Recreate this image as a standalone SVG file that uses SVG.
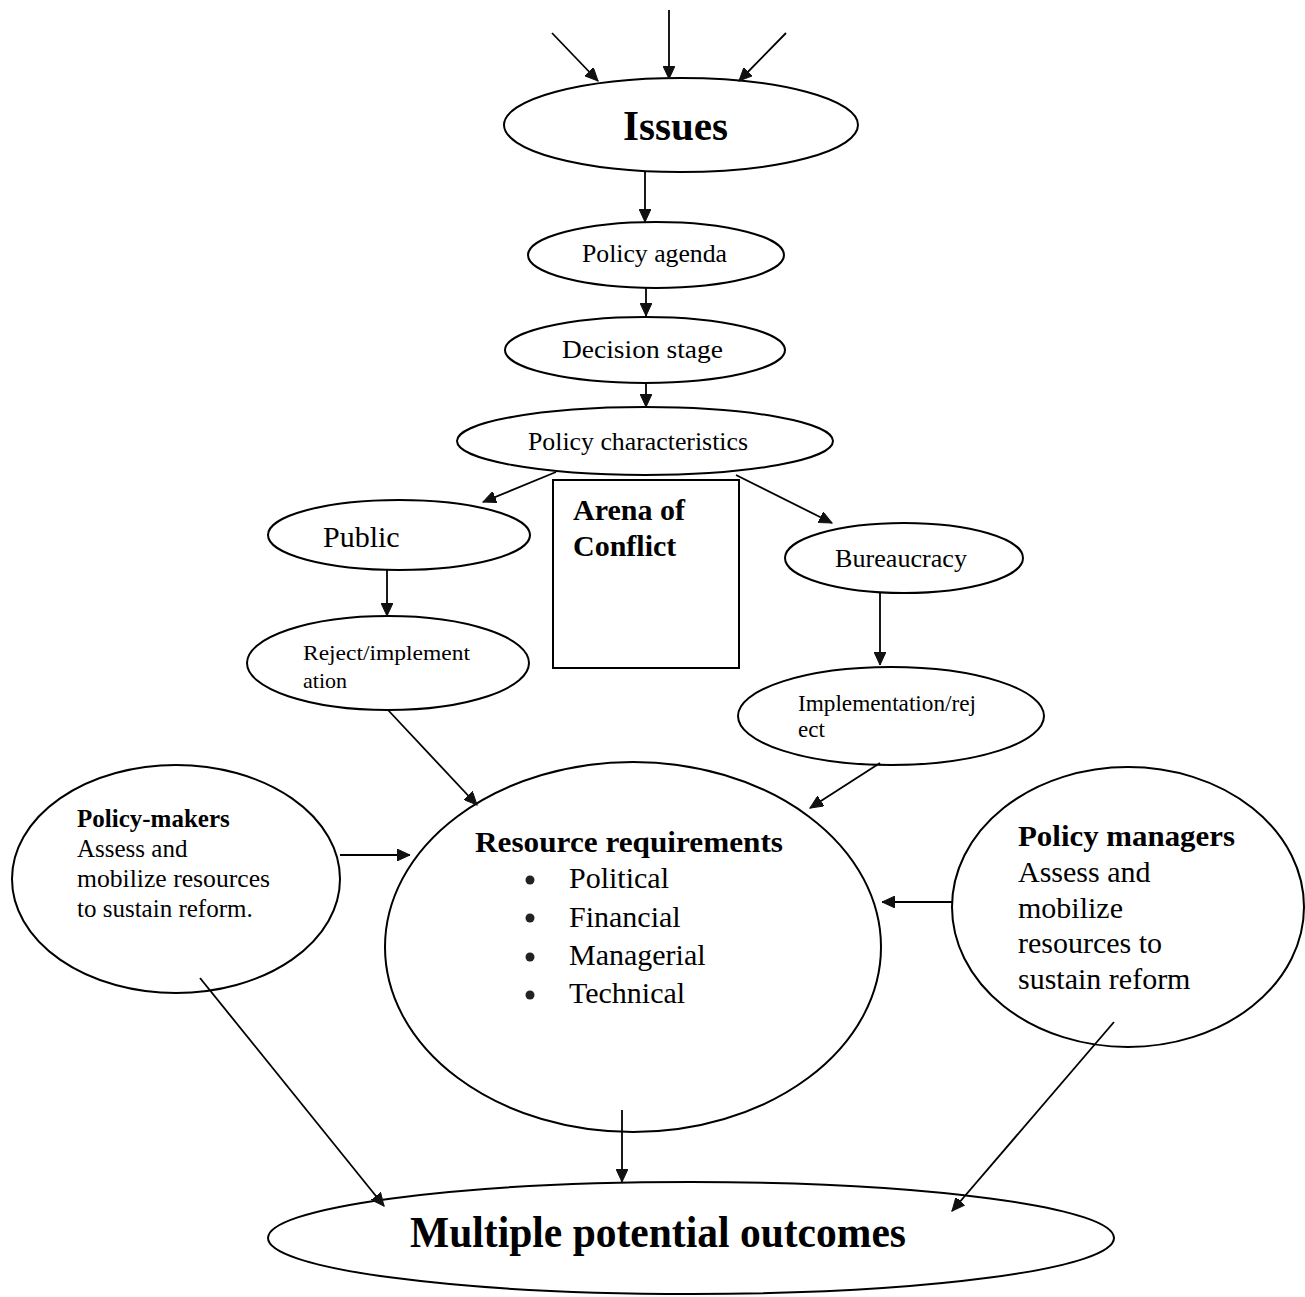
<svg xmlns="http://www.w3.org/2000/svg" width="1305" height="1297" viewBox="0 0 1305 1297">
<defs>
<marker id="ah" markerUnits="userSpaceOnUse" markerWidth="14" markerHeight="12" refX="13" refY="6" orient="auto">
<path d="M0,0 L13,6 L0,12 z" fill="#111" stroke="#111" stroke-width="1"/>
</marker>
<style>
.n{fill:#fff;stroke:#000;stroke-width:2}
.c{stroke:#000;stroke-width:1.8;fill:none;marker-end:url(#ah)}
text{font-family:"Liberation Serif","Times New Roman",serif;fill:#000}
.b{font-weight:bold}
</style>
</defs>
<rect width="1305" height="1297" fill="#fff"/>
<g id="issues">
<ellipse class="n" cx="681" cy="125" rx="177" ry="47"/>
<text class="b" x="623" y="140" font-size="42" textLength="105" lengthAdjust="spacingAndGlyphs">Issues</text>
</g>
<g id="policy-agenda">
<ellipse class="n" cx="656" cy="255" rx="128" ry="33"/>
<text x="582" y="262" font-size="25" textLength="145" lengthAdjust="spacingAndGlyphs">Policy agenda</text>
</g>
<g id="decision-stage">
<ellipse class="n" cx="645" cy="350" rx="140" ry="33"/>
<text x="562" y="358" font-size="25" textLength="161" lengthAdjust="spacingAndGlyphs">Decision stage</text>
</g>
<g id="policy-characteristics">
<ellipse class="n" cx="645" cy="441" rx="188" ry="34"/>
<text x="528" y="450" font-size="25" textLength="220" lengthAdjust="spacingAndGlyphs">Policy characteristics</text>
</g>
<g id="arena">
<rect class="n" x="553" y="480" width="186" height="188"/>
<text class="b" x="573" y="520" font-size="30">Arena of</text>
<text class="b" x="573" y="556" font-size="30">Conflict</text>
</g>
<g id="public">
<ellipse class="n" cx="399" cy="535" rx="131" ry="35"/>
<text x="323" y="547" font-size="30">Public</text>
</g>
<g id="reject-implementation">
<ellipse class="n" cx="388" cy="663" rx="141" ry="47"/>
<text x="303" y="660" font-size="22" textLength="167" lengthAdjust="spacingAndGlyphs">Reject/implement</text>
<text x="303" y="688" font-size="22">ation</text>
</g>
<g id="bureaucracy">
<ellipse class="n" cx="904" cy="558" rx="119" ry="35"/>
<text x="835" y="567" font-size="26" textLength="132" lengthAdjust="spacingAndGlyphs">Bureaucracy</text>
</g>
<g id="implementation-reject">
<ellipse class="n" cx="891" cy="716" rx="153" ry="49"/>
<text x="798" y="711" font-size="23" textLength="178" lengthAdjust="spacingAndGlyphs">Implementation/rej</text>
<text x="798" y="737" font-size="23">ect</text>
</g>
<g id="policy-makers">
<ellipse class="n" cx="176" cy="879" rx="164" ry="114"/>
<text class="b" x="77" y="827" font-size="25">Policy-makers</text>
<text x="77" y="857" font-size="25">Assess and</text>
<text x="77" y="887" font-size="25" textLength="193" lengthAdjust="spacingAndGlyphs">mobilize resources</text>
<text x="77" y="917" font-size="25">to sustain reform.</text>
</g>
<g id="resource-requirements">
<ellipse class="n" cx="633" cy="947" rx="248" ry="185"/>
<text class="b" x="475" y="852" font-size="30" textLength="308" lengthAdjust="spacingAndGlyphs">Resource requirements</text>
<circle cx="530" cy="880" r="4.5" fill="#222"/>
<circle cx="530" cy="918" r="4.5" fill="#222"/>
<circle cx="530" cy="957" r="4.5" fill="#222"/>
<circle cx="530" cy="995" r="4.5" fill="#222"/>
<text x="569" y="888" font-size="30">Political</text>
<text x="569" y="927" font-size="30">Financial</text>
<text x="569" y="965" font-size="30">Managerial</text>
<text x="569" y="1003" font-size="30">Technical</text>
</g>
<g id="policy-managers">
<ellipse class="n" cx="1128" cy="907" rx="176" ry="140"/>
<text class="b" x="1018" y="846" font-size="30" textLength="217" lengthAdjust="spacingAndGlyphs">Policy managers</text>
<text x="1018" y="882" font-size="30">Assess and</text>
<text x="1018" y="918" font-size="30">mobilize</text>
<text x="1018" y="953" font-size="30">resources to</text>
<text x="1018" y="989" font-size="30">sustain reform</text>
</g>
<g id="multiple-outcomes">
<ellipse class="n" cx="691" cy="1238" rx="423" ry="56"/>
<text class="b" x="410" y="1247" font-size="44" textLength="496" lengthAdjust="spacingAndGlyphs">Multiple potential outcomes</text>
</g>
<g id="connectors">
<line class="c" x1="669" y1="10" x2="669" y2="79"/>
<line class="c" x1="552" y1="33" x2="598" y2="81"/>
<line class="c" x1="786" y1="33" x2="739" y2="81"/>
<line class="c" x1="645" y1="172" x2="645" y2="222"/>
<line class="c" x1="646" y1="288" x2="646" y2="316"/>
<line class="c" x1="646" y1="383" x2="646" y2="407"/>
<line class="c" x1="556" y1="472" x2="483" y2="502"/>
<line class="c" x1="736" y1="475" x2="832" y2="523"/>
<line class="c" x1="387" y1="570" x2="387" y2="616"/>
<line class="c" x1="880" y1="593" x2="880" y2="665"/>
<line class="c" x1="388" y1="710" x2="477" y2="805"/>
<line class="c" x1="880" y1="763" x2="810" y2="808"/>
<line class="c" x1="340" y1="855" x2="410" y2="855"/>
<line class="c" x1="952" y1="902" x2="882" y2="902"/>
<line class="c" x1="622" y1="1110" x2="622" y2="1182"/>
<line class="c" x1="200" y1="978" x2="384" y2="1206"/>
<line class="c" x1="1114" y1="1022" x2="952" y2="1211"/>
</g>
</svg>
